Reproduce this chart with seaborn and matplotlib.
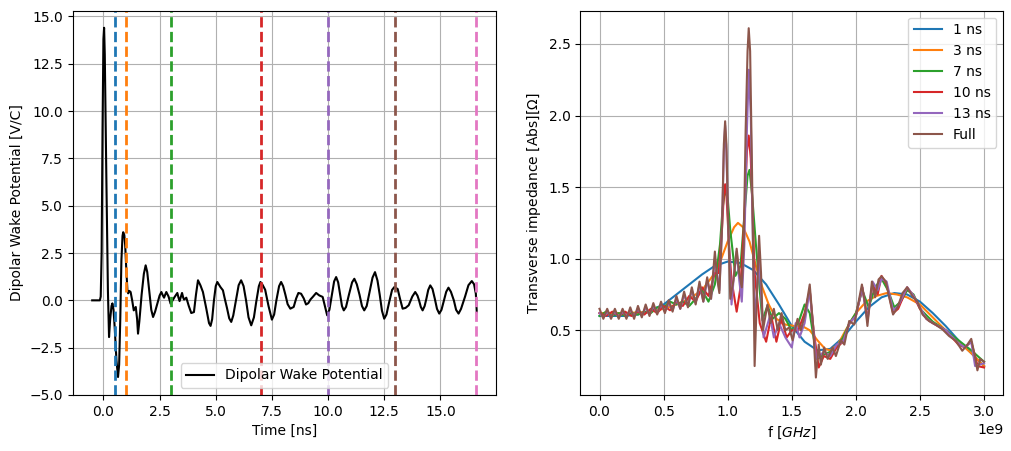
import numpy as np
import pandas as pd
import matplotlib
matplotlib.use('Agg')
import matplotlib.pyplot as plt
import seaborn as sns

# wake potential, time in ns, value in V/C
wake_t = [-0.5, -0.16, -0.12, -0.08, -0.04, 0.0, 0.03, 0.06, 0.13, 0.2,
          0.25, 0.3, 0.36, 0.40, 0.45, 0.5, 0.58, 0.65, 0.7, 0.75,
          0.8, 0.85, 0.88, 0.93, 0.97, 1.02, 1.07, 1.1, 1.15, 1.21,
          1.28, 1.35, 1.44, 1.5, 1.54, 1.6, 1.7, 1.8, 1.88, 1.95,
          2.05, 2.13, 2.21, 2.3, 2.4, 2.5, 2.58, 2.65, 2.7, 2.75,
          2.8, 2.9, 2.99, 3.08, 3.17, 3.29, 3.34, 3.39, 3.45, 3.5,
          3.55, 3.59, 3.69, 3.8, 3.91, 4.03, 4.12, 4.21, 4.32, 4.43,
          4.58, 4.7, 4.77, 4.84, 4.92, 5.0, 5.07, 5.21, 5.32, 5.4,
          5.5, 5.6, 5.69, 5.78, 5.9, 6.02, 6.13, 6.24, 6.35, 6.46,
          6.58, 6.7, 6.8, 6.92, 6.99, 7.07, 7.2, 7.35, 7.5, 7.6,
          7.7, 7.82, 7.91, 8.0, 8.1, 8.2, 8.32, 8.47, 8.58, 8.68,
          8.8, 8.92, 9.02, 9.12, 9.22, 9.32, 9.47, 9.61, 9.76, 9.86,
          9.96, 10.06, 10.16, 10.27, 10.36, 10.45, 10.53, 10.62, 10.7, 10.8,
          10.93, 11.07, 11.17, 11.28, 11.4, 11.51, 11.61, 11.72, 11.85, 11.98,
          12.09, 12.2, 12.3, 12.4, 12.5, 12.6, 12.72, 12.85, 12.95, 13.1,
          13.2, 13.32, 13.45, 13.59, 13.75, 13.88, 13.98, 14.05, 14.13, 14.21,
          14.3, 14.38, 14.46, 14.55, 14.65, 14.75, 14.85, 14.95, 15.05, 15.15,
          15.26, 15.36, 15.47, 15.6, 15.7, 15.81, 15.92, 16.1, 16.25, 16.4,
          16.5, 16.58, 16.62]
wake_v = [0.0, 0.0, 0.2, 2.5, 9.0, 13.8, 14.4, 13.0, 6.5, 0.5,
          -1.94, -1.0, -0.3, -0.16, -0.5, -1.4, -3.17, -4.05, -3.4, -1.0,
          2.1, 3.4, 3.6, 3.45, 2.9, 1.58, 0.5, 0.37, 0.5, 0.44,
          0.0, -0.53, -0.35, -1.0, -1.76, -1.1, 0.3, 1.4, 1.85, 1.5,
          0.4, -0.5, -0.88, -0.6, -0.18, 0.25, 0.44, 0.25, 0.14, 0.3,
          0.44, 0.2, -0.18, 0.0, 0.18, 0.39, 0.15, -0.04, 0.2, 0.39,
          0.15, 0.04, 0.14, -0.3, -0.67, -0.62, 0.3, 1.06, 0.79, 0.44,
          -0.44, -1.2, -1.35, -1.0, 0.0, 0.75, 0.97, 0.7, 0.53, 0.1,
          -0.4, -0.95, -1.14, -0.8, 0.0, 0.8, 1.06, 0.75, 0.0, -0.9,
          -1.32, -0.9, -0.1, 0.75, 0.97, 0.85, 0.56, -0.3, -1.02, -0.75,
          0.0, 0.75, 0.97, 0.75, 0.3, -0.2, -0.44, -0.35, 0.1, 0.39,
          0.35, 0.1, -0.22, -0.15, 0.05, 0.18, 0.39, 0.26, 0.18, -0.3,
          -0.79, -0.5, 0.2, 1.0, 1.23, 0.95, 0.35, -0.3, -0.53, -0.35,
          0.3, 0.95, 1.14, 0.85, 0.3, -0.3, -0.53, -0.3, 0.45, 1.2,
          1.49, 1.05, 0.3, -0.55, -0.97, -0.75, -0.1, 0.55, 0.7, 0.6,
          0.1, -0.44, -0.4, -0.26, 0.2, 0.44, 0.25, 0.0, -0.35, -0.53,
          -0.3, 0.1, 0.55, 0.79, 0.6, 0.1, -0.45, -0.7, -0.5, -0.05,
          0.45, 0.67, 0.45, 0.0, -0.5, -0.7, -0.45, 0.2, 0.8, 1.02,
          0.85, 0.35, -0.62]

cut_times = [0.5, 1, 3, 7, 10, 13, 16.6]

# impedance, f in GHz
f_1ns = [0.0, 0.1, 0.2, 0.3, 0.4, 0.5, 0.6, 0.7, 0.8, 0.9, 1.0, 1.1, 1.2, 1.3, 1.4, 1.5,
         1.6, 1.7, 1.8, 1.9, 2.0, 2.1, 2.2, 2.3, 2.4, 2.5, 2.6, 2.7, 2.8, 2.9, 3.0]
z_1ns = [0.6, 0.6, 0.6, 0.61, 0.64, 0.68, 0.75, 0.82, 0.89, 0.95, 0.98, 0.97, 0.92, 0.82, 0.68, 0.53,
         0.42, 0.36, 0.37, 0.45, 0.56, 0.66, 0.73, 0.76, 0.75, 0.7, 0.62, 0.53, 0.43, 0.34, 0.25]

f_3ns = [0.0, 0.2, 0.4, 0.5, 0.6, 0.7, 0.8, 0.9, 0.95, 1.0, 1.05, 1.08, 1.12, 1.17, 1.22, 1.27,
         1.32, 1.38, 1.45, 1.52, 1.58, 1.64, 1.7, 1.76, 1.8, 1.86, 1.92, 2.0, 2.08, 2.16, 2.24,
         2.32, 2.4, 2.5, 2.6, 2.7, 2.8, 2.9, 3.0]
z_3ns = [0.62, 0.62, 0.63, 0.65, 0.68, 0.72, 0.78, 0.9, 1.0, 1.12, 1.22, 1.25, 1.22, 1.12, 0.95, 0.8,
         0.68, 0.58, 0.54, 0.53, 0.53, 0.5, 0.43, 0.37, 0.36, 0.4, 0.5, 0.62, 0.7, 0.74, 0.76,
         0.75, 0.73, 0.68, 0.59, 0.5, 0.42, 0.34, 0.25]

f_7ns = [0.0, 0.05, 0.1, 0.15, 0.2, 0.25, 0.3, 0.35, 0.4, 0.45, 0.5, 0.55, 0.6, 0.65, 0.7, 0.75,
         0.8, 0.85, 0.9, 0.94, 0.96, 0.98, 1.0, 1.02, 1.06, 1.1, 1.13, 1.155, 1.17, 1.19, 1.22,
         1.27, 1.31, 1.35, 1.4, 1.45, 1.5, 1.55, 1.6, 1.64, 1.67, 1.7, 1.75, 1.8, 1.85, 1.9,
         1.95, 2.0, 2.05, 2.1, 2.15, 2.2, 2.25, 2.3, 2.35, 2.4, 2.45, 2.5, 2.6, 2.7, 2.8,
         2.9, 2.95, 3.0]
z_7ns = [0.6, 0.63, 0.6, 0.62, 0.6, 0.62, 0.61, 0.63, 0.62, 0.66, 0.66, 0.7, 0.68, 0.7, 0.67, 0.72,
         0.78, 0.7, 0.82, 1.1, 1.35, 1.48, 1.42, 1.2, 0.88, 0.95, 1.3, 1.58, 1.62, 1.45, 1.1,
         0.57, 0.67, 0.58, 0.62, 0.58, 0.5, 0.55, 0.68, 0.62, 0.45, 0.3, 0.33, 0.35, 0.38, 0.45,
         0.55, 0.62, 0.78, 0.66, 0.8, 0.86, 0.78, 0.66, 0.7, 0.78, 0.75, 0.65, 0.56, 0.5, 0.43,
         0.36, 0.32, 0.28]

f_10ns = [0.0, 0.05, 0.1, 0.15, 0.2, 0.25, 0.3, 0.35, 0.4, 0.45, 0.5, 0.55, 0.6, 0.65, 0.7, 0.75,
          0.8, 0.85, 0.9, 0.93, 0.955, 0.97, 0.98, 0.99, 1.01, 1.03, 1.07, 1.1, 1.13, 1.15, 1.164,
          1.18, 1.21, 1.25, 1.3, 1.34, 1.38, 1.42, 1.46, 1.5, 1.55, 1.6, 1.64, 1.67, 1.71, 1.75,
          1.8, 1.85, 1.9, 1.95, 2.0, 2.05, 2.09, 2.13, 2.17, 2.2, 2.24, 2.29, 2.33, 2.4, 2.45,
          2.5, 2.55, 2.6, 2.7, 2.8, 2.85, 2.9, 2.95, 3.0]
z_10ns = [0.62, 0.6, 0.63, 0.6, 0.63, 0.6, 0.63, 0.61, 0.65, 0.62, 0.67, 0.64, 0.7, 0.67, 0.74, 0.7,
          0.8, 0.74, 0.9, 0.9, 1.2, 1.45, 1.52, 1.45, 1.1, 0.85, 0.63, 0.8, 1.3, 1.75, 1.86,
          1.7, 0.9, 0.55, 0.42, 0.6, 0.42, 0.58, 0.45, 0.5, 0.5, 0.62, 0.78, 0.5, 0.24, 0.32,
          0.3, 0.38, 0.42, 0.55, 0.6, 0.8, 0.58, 0.82, 0.75, 0.88, 0.82, 0.62, 0.65, 0.8, 0.74,
          0.65, 0.58, 0.55, 0.5, 0.4, 0.38, 0.42, 0.25, 0.24]

f_13ns = [0.0, 0.03, 0.06, 0.09, 0.12, 0.15, 0.18, 0.21, 0.24, 0.27, 0.3, 0.33, 0.36, 0.39, 0.42,
          0.45, 0.48, 0.51, 0.54, 0.57, 0.6, 0.63, 0.66, 0.69, 0.72, 0.75, 0.78, 0.81, 0.84, 0.87,
          0.9, 0.935, 0.955, 0.97, 0.98, 0.99, 1.005, 1.03, 1.05, 1.07, 1.09, 1.11, 1.13, 1.15,
          1.165, 1.18, 1.195, 1.21, 1.245, 1.28, 1.33, 1.36, 1.4, 1.45, 1.5, 1.53, 1.56, 1.6,
          1.64, 1.69, 1.75, 1.8, 1.85, 1.9, 1.95, 2.0, 2.05, 2.09, 2.13, 2.17, 2.2, 2.24, 2.29,
          2.33, 2.4, 2.45, 2.5, 2.55, 2.6, 2.7, 2.8, 2.85, 2.9, 2.93, 3.0]
z_13ns = [0.62, 0.59, 0.63, 0.59, 0.63, 0.59, 0.63, 0.6, 0.64, 0.6, 0.65, 0.6, 0.66, 0.61, 0.67,
          0.62, 0.68, 0.63, 0.69, 0.64, 0.72, 0.65, 0.75, 0.67, 0.78, 0.69, 0.82, 0.7, 0.85, 0.72,
          1.0, 0.78, 1.2, 1.75, 1.93, 1.75, 1.2, 0.68, 0.9, 1.05, 0.85, 0.7, 1.1, 1.9,
          2.32, 2.0, 1.2, 0.55, 1.0, 0.45, 0.6, 0.45, 0.55, 0.45, 0.38, 0.55, 0.45, 0.55,
          0.78, 0.3, 0.35, 0.32, 0.4, 0.42, 0.55, 0.6, 0.8, 0.56, 0.84, 0.78, 0.86, 0.84, 0.64,
          0.67, 0.8, 0.74, 0.66, 0.58, 0.55, 0.5, 0.41, 0.38, 0.42, 0.25, 0.27]

f_full = [0.0, 0.03, 0.06, 0.09, 0.12, 0.15, 0.18, 0.21, 0.24, 0.27, 0.3, 0.33, 0.36, 0.39, 0.42,
          0.45, 0.48, 0.51, 0.54, 0.57, 0.6, 0.63, 0.66, 0.69, 0.72, 0.75, 0.78, 0.81, 0.84, 0.87,
          0.9, 0.92, 0.935, 0.955, 0.97, 0.98, 0.99, 1.005, 1.02, 1.045, 1.07, 1.09, 1.11, 1.125,
          1.14, 1.155, 1.164, 1.175, 1.19, 1.21, 1.23, 1.245, 1.26, 1.275, 1.31, 1.335, 1.36, 1.39,
          1.42, 1.45, 1.48, 1.506, 1.545, 1.57, 1.6, 1.64, 1.667, 1.688, 1.71, 1.727, 1.753, 1.78,
          1.818, 1.844, 1.883, 1.91, 1.948, 1.987, 2.013, 2.047, 2.073, 2.09, 2.125, 2.15, 2.177,
          2.2, 2.234, 2.26, 2.29, 2.325, 2.364, 2.4, 2.44, 2.48, 2.52, 2.57, 2.62, 2.675, 2.727,
          2.78, 2.83, 2.87, 2.9, 2.93, 2.948, 2.97, 3.0]
z_full = [0.65, 0.58, 0.65, 0.58, 0.65, 0.58, 0.65, 0.58, 0.66, 0.58, 0.67, 0.59, 0.68, 0.6, 0.69,
          0.61, 0.7, 0.62, 0.71, 0.63, 0.74, 0.65, 0.77, 0.66, 0.8, 0.68, 0.84, 0.7, 0.87, 0.72,
          1.05, 0.85, 0.76, 1.2, 1.8, 1.96, 1.8, 1.2, 0.72, 0.85, 1.07, 0.9, 0.8, 1.1,
          1.9, 2.45, 2.61, 2.45, 1.6, 0.25, 0.8, 1.16, 0.9, 0.5, 0.68, 0.55, 0.65, 0.5,
          0.62, 0.5, 0.52, 0.43, 0.58, 0.5, 0.6, 0.82, 0.52, 0.17, 0.4, 0.26, 0.38, 0.3,
          0.38, 0.32, 0.43, 0.4, 0.565, 0.54, 0.66, 0.82, 0.68, 0.53, 0.84, 0.73, 0.855,
          0.877, 0.84, 0.73, 0.61, 0.66, 0.76, 0.8, 0.74, 0.7, 0.61, 0.565, 0.54, 0.507, 0.46,
          0.426, 0.357, 0.4, 0.44, 0.31, 0.22, 0.3, 0.28]

labels = ['1 ns', '3 ns', '7 ns', '10 ns', '13 ns', 'Full']
f_all = [f_1ns, f_3ns, f_7ns, f_10ns, f_13ns, f_full]
z_all = [z_1ns, z_3ns, z_7ns, z_10ns, z_13ns, z_full]

fig = plt.figure(figsize=(10.12, 4.51), dpi=100)
ax1 = fig.add_axes([0.0721, 0.1242, 0.418, 0.852])
ax2 = fig.add_axes([0.5734, 0.1242, 0.418, 0.852])

# left: wake potential with the cut times
sns.lineplot(x=wake_t, y=wake_v, ax=ax1, color='k', sort=False, estimator=None,
             label='Dipolar Wake Potential')
for i, tc in enumerate(cut_times):
    ax1.axvline(tc, color=f'C{i}', ls='--', lw=2)
ax1.set_ylim(-5, 15.3)
ax1.set_xlabel('Time [ns]')
ax1.set_ylabel('Dipolar Wake Potential [V/C]')
ax1.grid()
ax1.legend(loc='lower center')

# right: impedance for each cut
for i in range(len(labels)):
    df = pd.DataFrame({'f': np.array(f_all[i]) * 1e9, 'Z': z_all[i]})
    sns.lineplot(data=df, x='f', y='Z', ax=ax2, color=f'C{i}', sort=False,
                 estimator=None, label=labels[i])
ax2.set_xlabel('f [$GHz$]')
ax2.set_ylabel(r'Transverse impedance [Abs][$\Omega$]')
ax2.grid()
ax2.legend(loc='upper right')

fig.savefig('out.png', dpi=100)
